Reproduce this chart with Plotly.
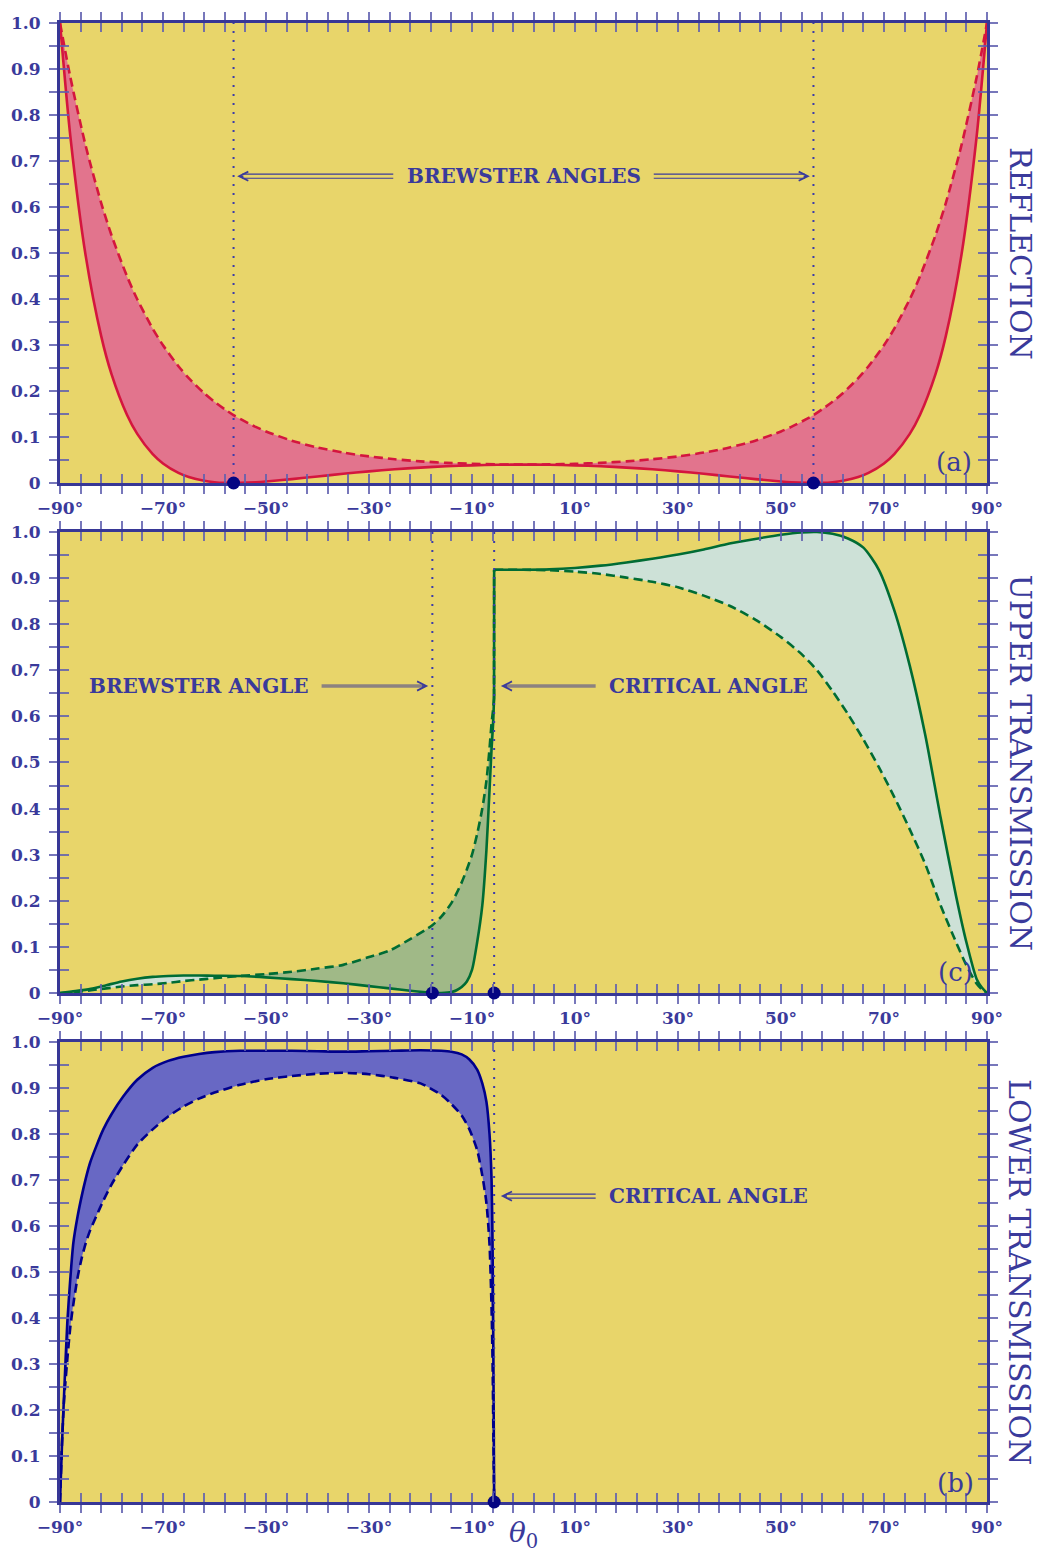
import plotly.graph_objects as go

# ---------------- data ----------------
# Panel (a) reflection
X_A = [-90, -88, -85, -82, -80, -77, -75, -72, -70, -67, -65, -62, -60, -58, -56.3, -55, -52, -50,
       -45, -40, -35, -30, -25, -20, -15, -10, -5,
       0, 5, 10, 15, 20, 25, 30, 35, 40, 45, 50, 52, 55, 56.3, 58, 60, 62, 65, 67, 70, 72, 75, 77,
       80, 82, 85, 88, 90]
RS_A = [1.0, 0.8826, 0.7323, 0.6086, 0.5386, 0.4496, 0.3994, 0.3356, 0.2996, 0.2539, 0.2281, 0.1952,
        0.1766, 0.1602, 0.1475, 0.1393, 0.1219, 0.1121, 0.0920, 0.0772, 0.0661, 0.0578, 0.0516,
        0.0471, 0.0438, 0.0417, 0.0404,
        0.040, 0.0404, 0.0417, 0.0438, 0.0471, 0.0516, 0.0578, 0.0661, 0.0772, 0.0920, 0.1121,
        0.1219, 0.1393, 0.1475, 0.1602, 0.1766, 0.1952, 0.2281, 0.2539, 0.2996, 0.3356, 0.3994,
        0.4496, 0.5386, 0.6086, 0.7323, 0.8826, 1.0]
RP_A = [1.0, 0.7548, 0.4932, 0.3193, 0.2368, 0.1484, 0.1068, 0.0627, 0.0425, 0.0219, 0.0130, 0.0048,
        0.0018, 0.0003, 0.0, 0.0002, 0.0017, 0.0033, 0.0085, 0.0143, 0.0200, 0.0253, 0.0298,
        0.0335, 0.0363, 0.0384, 0.0396,
        0.040, 0.0396, 0.0384, 0.0363, 0.0335, 0.0298, 0.0253, 0.0200, 0.0143, 0.0085, 0.0033,
        0.0017, 0.0002, 0.0, 0.0003, 0.0018, 0.0048, 0.0130, 0.0219, 0.0425, 0.0627, 0.1068,
        0.1484, 0.2368, 0.3193, 0.4932, 0.7548, 1.0]
BREWSTER_A = [-56.3, 56.3]

# Panel (c) upper transmission
X_C = [-90, -87, -84, -81, -78, -75, -72, -69, -66, -63, -60, -55, -50, -45, -40, -35, -30, -26, -22,
       -19, -17.7, -16, -14, -13, -12, -11, -10, -9, -8, -7.2, -6.6, -6.2, -5.9, -5.72, -5.7, -3, 0,
       5, 10, 15, 20, 25, 30, 35, 40, 45, 50, 54, 57, 60, 63, 66, 69, 72, 75, 78, 81, 84, 86, 88, 89, 90]
SOLID_C = [0, 0.004, 0.009, 0.017, 0.025, 0.031, 0.035, 0.037, 0.038, 0.038, 0.0375, 0.037,
           0.034, 0.030, 0.026, 0.021, 0.015, 0.010, 0.005, 0.0015, 0.0, 0.0,
           0.002, 0.006, 0.013, 0.025, 0.05, 0.11, 0.19, 0.31, 0.44, 0.53,
           0.585, 0.64, 0.918, 0.918, 0.918, 0.919, 0.922, 0.927, 0.934, 0.942,
           0.951, 0.962, 0.975, 0.985, 0.994, 0.999, 1.0, 0.996, 0.986, 0.966,
           0.918, 0.83, 0.71, 0.56, 0.38, 0.21, 0.11, 0.03, 0.012, 0]
DASHED_C = [0, 0.002, 0.006, 0.010, 0.014, 0.017, 0.019, 0.022, 0.026, 0.029, 0.032, 0.037,
            0.041, 0.046, 0.053, 0.061, 0.078, 0.092, 0.117, 0.137, 0.147, 0.165,
            0.195, 0.216, 0.24, 0.268, 0.30, 0.345, 0.40, 0.46, 0.53, 0.585,
            0.615, 0.64, 0.918, 0.918, 0.918, 0.917, 0.914, 0.909, 0.901, 0.892,
            0.880, 0.862, 0.840, 0.810, 0.772, 0.735, 0.70, 0.655, 0.605, 0.55,
            0.49, 0.425, 0.355, 0.28, 0.19, 0.11, 0.06, 0.02, 0.008, 0]
BREWSTER_C = -17.7
CRITICAL = -5.7
CROSS_C = -55
JUMP_C = -5.72

# Panel (b) lower transmission
X_B = [-90, -89.6, -89.22, -88.58, -88, -87.41, -86.6, -85.79, -85, -84.17, -83, -81.59, -80, -77.7,
       -75, -72, -69, -66, -63, -60, -55, -50, -45, -40, -35, -30, -25, -20, -16, -14, -12, -10.5,
       -9, -8, -7.2, -6.6, -6.2, -6.0, -5.85, -5.7]
SOLID_B = [0, 0.13, 0.23, 0.39, 0.485, 0.563, 0.62, 0.665, 0.703, 0.737,
           0.772, 0.81, 0.843, 0.882, 0.918, 0.944, 0.959, 0.968, 0.974, 0.978,
           0.981, 0.981, 0.981, 0.980, 0.979, 0.980, 0.981, 0.982, 0.981, 0.979,
           0.973, 0.962, 0.94, 0.91, 0.87, 0.80, 0.70, 0.55, 0.32, 0]
DASHED_B = [0, 0.13, 0.22, 0.31, 0.38, 0.43, 0.487, 0.53, 0.563, 0.59,
            0.62, 0.655, 0.69, 0.733, 0.777, 0.81, 0.838, 0.86, 0.877, 0.89,
            0.907, 0.919, 0.926, 0.931, 0.933, 0.930, 0.922, 0.91, 0.885, 0.865,
            0.84, 0.81, 0.765, 0.71, 0.65, 0.56, 0.42, 0.30, 0.15, 0]

X_TICK_LABELS = ["−90°", "−70°", "−50°", "−30°", "−10°", "10°", "30°", "50°", "70°", "90°"]
Y_TICK_LABELS = ["0", "0.1", "0.2", "0.3", "0.4", "0.5", "0.6", "0.7", "0.8", "0.9", "1.0"]

# ---------------- style ----------------
BG = "rgb(232,213,106)"
TXT = "rgb(58,58,155)"
AXC = "rgb(55,55,150)"
TICKC = "rgba(95,95,175,0.85)"
RED = "rgb(212,22,62)"
PINK = "rgb(226,116,141)"
GREEN = "rgb(0,108,52)"
LIGHT = "rgb(205,225,215)"
OLIVE = "rgb(160,185,135)"
NAVY = "rgb(0,0,140)"
BLUEFILL = "rgb(104,104,196)"
DOT = "rgb(5,5,130)"
VLINE = "rgb(60,60,170)"
GREY = "rgb(140,130,128)"
SERIF = "DejaVu Serif"
SM = 0.7

x_tickvals = [-90 + 4 * k for k in range(46)]
x_ticktext = []
for v in x_tickvals:
    x_ticktext.append(X_TICK_LABELS[(v + 90) // 20] if (v + 90) % 20 == 0 else "")
y_tickvals = [round(0.05 * k, 2) for k in range(21)]
y_ticktext = [Y_TICK_LABELS[k // 2] if k % 2 == 0 else "" for k in range(21)]

fig = go.Figure()

def fill_pair(xs, lo, hi, color, xa, ya, shape="spline"):
    fig.add_trace(go.Scatter(x=xs, y=lo, mode="lines", line=dict(width=0, shape=shape, smoothing=SM),
                             xaxis=xa, yaxis=ya, showlegend=False, hoverinfo="skip"))
    fig.add_trace(go.Scatter(x=xs, y=hi, mode="lines", line=dict(width=0, shape=shape, smoothing=SM),
                             fill="tonexty", fillcolor=color, xaxis=xa, yaxis=ya,
                             showlegend=False, hoverinfo="skip"))

def curve(xs, ys, color, dash, xa, ya, shape="spline"):
    fig.add_trace(go.Scatter(x=xs, y=ys, mode="lines",
                             line=dict(color=color, width=2.6, dash=dash, shape=shape, smoothing=SM),
                             xaxis=xa, yaxis=ya, showlegend=False, hoverinfo="skip"))

def vline(xv, xa, ya):
    fig.add_trace(go.Scatter(x=[xv, xv], y=[0, 1], mode="lines",
                             line=dict(color=VLINE, width=2, dash="2px,7px"),
                             xaxis=xa, yaxis=ya, showlegend=False, hoverinfo="skip"))

def dots(xs, xa, ya):
    fig.add_trace(go.Scatter(x=xs, y=[0] * len(xs), mode="markers",
                             marker=dict(color=DOT, size=13), cliponaxis=False,
                             xaxis=xa, yaxis=ya, showlegend=False, hoverinfo="skip"))

# Panel (a)
fill_pair(X_A, RP_A, RS_A, PINK, "x", "y")
curve(X_A, RP_A, RED, "solid", "x", "y")
curve(X_A, RS_A, RED, "9px,5px", "x", "y")
for b in BREWSTER_A:
    vline(b, "x", "y")
dots(BREWSTER_A, "x", "y")

# Panel (c)
i_cross = X_C.index(CROSS_C)
i_jump = X_C.index(JUMP_C)
L = slice(0, i_jump + 1)
R = slice(i_jump + 1, None)
J = slice(i_jump, i_jump + 2)
fill_pair(X_C[:i_cross + 1], DASHED_C[:i_cross + 1], SOLID_C[:i_cross + 1], LIGHT, "x2", "y2")
fill_pair(X_C[i_cross:i_jump + 1], SOLID_C[i_cross:i_jump + 1], DASHED_C[i_cross:i_jump + 1], OLIVE, "x2", "y2")
fill_pair(X_C[R], DASHED_C[R], SOLID_C[R], LIGHT, "x2", "y2")
for seg, shp in ((L, "spline"), (J, "linear"), (R, "spline")):
    curve(X_C[seg], SOLID_C[seg], GREEN, "solid", "x2", "y2", shp)
for seg, shp in ((L, "spline"), (J, "linear"), (R, "spline")):
    curve(X_C[seg], DASHED_C[seg], GREEN, "9px,5px", "x2", "y2", shp)
vline(BREWSTER_C, "x2", "y2")
vline(CRITICAL, "x2", "y2")
dots([BREWSTER_C, CRITICAL], "x2", "y2")

# Panel (b)
fill_pair(X_B, DASHED_B, SOLID_B, BLUEFILL, "x3", "y3")
curve(X_B, SOLID_B, NAVY, "solid", "x3", "y3")
curve(X_B, DASHED_B, NAVY, "9px,5px", "x3", "y3")
vline(CRITICAL, "x3", "y3")
dots([CRITICAL], "x3", "y3")

# dummy traces to create the overlay axes (inner half of crossing ticks)
for xa, ya in [("x4", "y"), ("x", "y4"), ("x5", "y2"), ("x2", "y5"), ("x6", "y3"), ("x3", "y6")]:
    fig.add_trace(go.Scatter(x=[None], y=[None], mode="lines", xaxis=xa, yaxis=ya,
                             showlegend=False, hoverinfo="skip"))

tickfont = dict(family=SERIF, size=17, color=TXT, weight="bold")
common_x = dict(range=[-90, 90], tickmode="array", tickvals=x_tickvals, showgrid=False, zeroline=False,
                tickwidth=1.5, tickcolor=TICKC, automargin=False)
common_y = dict(range=[0, 1], tickmode="array", tickvals=y_tickvals, showgrid=False, zeroline=False,
                tickwidth=1.5, tickcolor=TICKC, automargin=False)

domains = [[0.68898, 1.0], [0.34415, 0.65585], [0.0, 0.31102]]
lay = {}
for i in range(3):
    s = "" if i == 0 else str(i + 1)
    lay["xaxis" + s] = dict(common_x, anchor="y" + s, domain=[0, 1], ticktext=x_ticktext,
                            ticks="outside", ticklen=8, mirror="ticks", showline=True,
                            linewidth=3, linecolor=AXC, tickfont=tickfont, layer="below traces")
    lay["yaxis" + s] = dict(common_y, anchor="x" + s, domain=domains[i], ticktext=y_ticktext,
                            ticks="outside", ticklen=8, mirror="ticks", showline=True,
                            linewidth=3, linecolor=AXC, tickfont=tickfont, layer="below traces",
                            ticklabelstandoff=5)
    o = str(i + 4)
    lay["xaxis" + o] = dict(common_x, overlaying="x" + s, anchor="y" + s, ticks="inside", ticklen=9,
                            mirror="ticks", showline=True, linecolor="rgba(0,0,0,0)",
                            showticklabels=False, layer="above traces")
    lay["yaxis" + o] = dict(common_y, overlaying="y" + s, anchor="x" + s, ticks="inside", ticklen=9,
                            mirror="ticks", showline=True, linecolor="rgba(0,0,0,0)",
                            showticklabels=False, layer="above traces")

annotations = []

def add_text(txt, x, y, xr, yr, size, bold=False, **kw):
    annotations.append(dict(text=txt, x=x, y=y, xref=xr, yref=yr, showarrow=False,
                            font=dict(family=SERIF, size=size, color=TXT,
                                      weight="bold" if bold else "normal"), **kw))

def head(tip, y, direction, xr, yr):
    annotations.append(dict(text="", x=tip, y=y, ax=tip - direction * 1.5, ay=y, xref=xr, yref=yr,
                            axref=xr, ayref=yr, showarrow=True, arrowhead=5, arrowsize=1.2,
                            arrowwidth=1.5, arrowcolor=TXT, standoff=0, startstandoff=0))

def double_arrow(tail, tip, y, xr, yr):
    d = 1 if tip > tail else -1
    for off in (-0.0045, 0.0045):
        annotations.append(dict(text="", x=tip - d * 1.0, y=y + off, ax=tail, ay=y + off, xref=xr,
                                yref=yr, axref=xr, ayref=yr, showarrow=True, arrowhead=0,
                                arrowwidth=1.2, arrowcolor=TXT, standoff=0, startstandoff=0))
    head(tip, y, d, xr, yr)

def grey_arrow(tail, tip, y, xr, yr):
    d = 1 if tip > tail else -1
    annotations.append(dict(text="", x=tip - d * 1.0, y=y, ax=tail, ay=y, xref=xr, yref=yr,
                            axref=xr, ayref=yr, showarrow=True, arrowhead=0, arrowwidth=3.5,
                            arrowcolor=GREY, standoff=0, startstandoff=0))
    head(tip, y, d, xr, yr)

# panel (a) labels
add_text("BREWSTER ANGLES", 0, 0.667, "x", "y", 20, bold=True)
double_arrow(-25.0, BREWSTER_A[0] + 0.7, 0.667, "x", "y")
double_arrow(25.0, BREWSTER_A[1] - 0.7, 0.667, "x", "y")
add_text("(a)", 83.6, 0.045, "x", "y", 26)

# panel (c) labels
add_text("BREWSTER ANGLE", -63.0, 0.666, "x2", "y2", 20, bold=True)
grey_arrow(-39.5, BREWSTER_C - 0.8, 0.666, "x2", "y2")
add_text("CRITICAL ANGLE", 36.0, 0.666, "x2", "y2", 20, bold=True)
grey_arrow(14.3, CRITICAL + 1.3, 0.666, "x2", "y2")
add_text("(c)", 83.8, 0.046, "x2", "y2", 26)

# panel (b) labels
add_text("CRITICAL ANGLE", 36.0, 0.665, "x3", "y3", 20, bold=True)
double_arrow(14.3, CRITICAL + 1.3, 0.665, "x3", "y3")
add_text("(b)", 83.8, 0.041, "x3", "y3", 26)

# right-side titles
for t, yc in (("REFLECTION", 0.8445), ("UPPER TRANSMISSION", 0.5), ("LOWER TRANSMISSION", 0.1555)):
    add_text(t, 1.0356, yc, "paper", "paper", 30, textangle=90, xanchor="center", yanchor="middle")

# x label
add_text("<i>θ</i><sub>0</sub>", 0, 0, "x3", "paper", 28, yanchor="top", yshift=-12)

fig.update_layout(width=1037, height=1555, margin=dict(l=60, r=50, t=23, b=53, autoexpand=False),
                  plot_bgcolor=BG, paper_bgcolor="white", showlegend=False,
                  annotations=annotations, **lay)

fig.write_html("out.html", config={"displayModeBar": False},
               post_script="document.body.style.margin='0';document.body.style.overflow='hidden';")
